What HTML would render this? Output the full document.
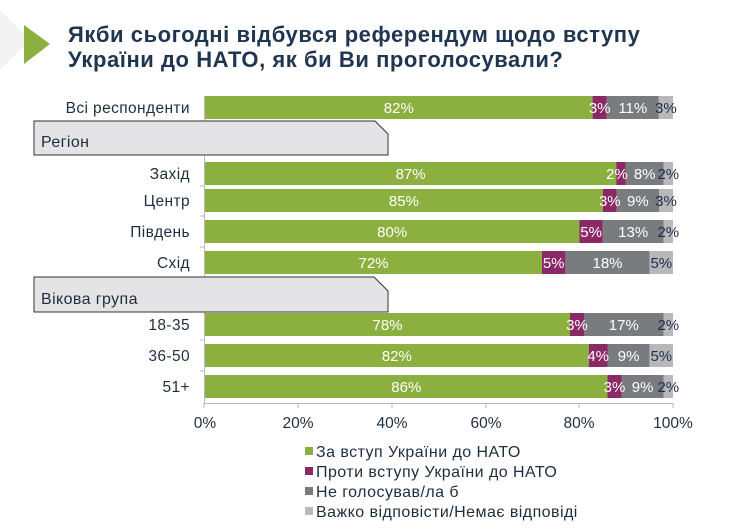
<!DOCTYPE html>
<html><head><meta charset="utf-8"><style>
body{margin:0;background:#fff;}
svg{display:block;font-family:"Liberation Sans","DejaVu Sans",sans-serif;}
</style></head><body>
<svg width="740" height="531" viewBox="0 0 740 531" xmlns="http://www.w3.org/2000/svg">
<polygon points="0,10 30,40 0,70" fill="#f2f2f2"/>
<polygon points="24,25 50,44 24,64" fill="#8cb040"/>
<g font-size="22" font-weight="bold" fill="#1f3550" letter-spacing="0.55">
<text x="68" y="42">Якби сьогодні відбувся референдум щодо вступу</text>
<text x="68" y="67">України до НАТО, як би Ви проголосували?</text>
</g>
<g stroke="#bbb" stroke-width="1">
<line x1="204.5" y1="96" x2="204.5" y2="403"/>
<line x1="204" y1="403.5" x2="673" y2="403.5"/>
<line x1="298" y1="403" x2="298" y2="408"/><line x1="392" y1="403" x2="392" y2="408"/>
<line x1="486" y1="403" x2="486" y2="408"/><line x1="579" y1="403" x2="579" y2="408"/>
<line x1="673" y1="403" x2="673" y2="408"/><line x1="204" y1="403" x2="204" y2="408"/>
<line x1="200" y1="127" x2="204" y2="127"/><line x1="200" y1="186" x2="204" y2="186"/>
<line x1="200" y1="216" x2="204" y2="216"/><line x1="200" y1="247" x2="204" y2="247"/>
<line x1="200" y1="340" x2="204" y2="340"/><line x1="200" y1="371" x2="204" y2="371"/>
</g>
<g font-size="15.5" fill="#1f2d3d" text-anchor="end" letter-spacing="0.4">
<text x="190" y="113">Всі респонденти</text>
<text x="190" y="179">Захід</text>
<text x="190" y="206">Центр</text>
<text x="190" y="237">Південь</text>
<text x="190" y="268">Схід</text>
<text x="190" y="330">18-35</text>
<text x="190" y="361">36-50</text>
<text x="190" y="392">51+</text>
</g>
<polygon points="34,121 375,121 388,134 388,155 34,155" fill="#e4e4e6" stroke="#333" stroke-width="1"/>
<text x="41" y="147" font-size="16" fill="#1f2d3d" letter-spacing="0.4">Регіон</text>
<polygon points="34,277 374,277 388,291 388,312 34,312" fill="#e4e4e6" stroke="#333" stroke-width="1"/>
<text x="41" y="304" font-size="16" fill="#1f2d3d" letter-spacing="0.4">Вікова група</text>
<g>
<rect x="205" y="96" width="387.6" height="23" fill="#8cb040"/><rect x="592.6" y="96" width="14.2" height="23" fill="#8b2866"/><rect x="606.8" y="96" width="52" height="23" fill="#7a7b7f"/><rect x="658.8" y="96" width="14.2" height="23" fill="#b8b8bb"/>
<rect x="205" y="162" width="411.3" height="23" fill="#8cb040"/><rect x="616.3" y="162" width="9.5" height="23" fill="#8b2866"/><rect x="625.8" y="162" width="37.8" height="23" fill="#7a7b7f"/><rect x="663.6" y="162" width="9.4" height="23" fill="#b8b8bb"/>
<rect x="205" y="189" width="397.8" height="23" fill="#8cb040"/><rect x="602.8" y="189" width="14" height="23" fill="#8b2866"/><rect x="616.8" y="189" width="42.2" height="23" fill="#7a7b7f"/><rect x="659" y="189" width="14" height="23" fill="#b8b8bb"/>
<rect x="205" y="220" width="374.4" height="23" fill="#8cb040"/><rect x="579.4" y="220" width="23.4" height="23" fill="#8b2866"/><rect x="602.8" y="220" width="60.9" height="23" fill="#7a7b7f"/><rect x="663.7" y="220" width="9.3" height="23" fill="#b8b8bb"/>
<rect x="205" y="251" width="337" height="23" fill="#8cb040"/><rect x="542" y="251" width="23.4" height="23" fill="#8b2866"/><rect x="565.4" y="251" width="84.2" height="23" fill="#7a7b7f"/><rect x="649.6" y="251" width="23.4" height="23" fill="#b8b8bb"/>
<rect x="205" y="313" width="365" height="23" fill="#8cb040"/><rect x="570" y="313" width="14" height="23" fill="#8b2866"/><rect x="584" y="313" width="79.6" height="23" fill="#7a7b7f"/><rect x="663.6" y="313" width="9.4" height="23" fill="#b8b8bb"/>
<rect x="205" y="344" width="383.8" height="23" fill="#8cb040"/><rect x="588.8" y="344" width="18.7" height="23" fill="#8b2866"/><rect x="607.5" y="344" width="42.1" height="23" fill="#7a7b7f"/><rect x="649.6" y="344" width="23.4" height="23" fill="#b8b8bb"/>
<rect x="205" y="375" width="402.5" height="23" fill="#8cb040"/><rect x="607.5" y="375" width="14" height="23" fill="#8b2866"/><rect x="621.5" y="375" width="42.1" height="23" fill="#7a7b7f"/><rect x="663.6" y="375" width="9.4" height="23" fill="#b8b8bb"/>
</g>
<g font-size="15" fill="#fff" text-anchor="middle">
<text x="398.8" y="113">82%</text><text x="599.7" y="113">3%</text><text x="632.8" y="113">11%</text>
<text x="410.6" y="179">87%</text><text x="617" y="179">2%</text><text x="644.7" y="179">8%</text>
<text x="403.9" y="206">85%</text><text x="609.8" y="206">3%</text><text x="637.9" y="206">9%</text>
<text x="392.2" y="237">80%</text><text x="591.1" y="237">5%</text><text x="633.2" y="237">13%</text>
<text x="373.5" y="268">72%</text><text x="553.7" y="268">5%</text><text x="607.5" y="268">18%</text>
<text x="387.5" y="330">78%</text><text x="577" y="330">3%</text><text x="623.8" y="330">17%</text>
<text x="396.9" y="361">82%</text><text x="598.2" y="361">4%</text><text x="628.6" y="361">9%</text>
<text x="406.3" y="392">86%</text><text x="614.5" y="392">3%</text><text x="642.6" y="392">9%</text>
</g>
<g font-size="15" fill="#1f2d4d" text-anchor="middle">
<text x="665.9" y="113">3%</text><text x="668.3" y="179">2%</text><text x="666" y="206">3%</text>
<text x="668.3" y="237">2%</text><text x="661.3" y="268">5%</text><text x="668.3" y="330">2%</text>
<text x="661.3" y="361">5%</text><text x="668.3" y="392">2%</text>
</g>
<g font-size="15.5" fill="#1f2d3d" text-anchor="middle">
<text x="205" y="428">0%</text><text x="298" y="428">20%</text><text x="392" y="428">40%</text>
<text x="486" y="428">60%</text><text x="579" y="428">80%</text><text x="673" y="428">100%</text>
</g>
<rect x="305" y="447" width="8" height="8" fill="#8cb040"/>
<rect x="305" y="467" width="8" height="8" fill="#8b2866"/>
<rect x="305" y="487" width="8" height="8" fill="#7a7b7f"/>
<rect x="305" y="507" width="8" height="8" fill="#b8b8bb"/>
<g font-size="16" fill="#1f2d3d" letter-spacing="0.45">
<text x="316" y="457">За вступ України до НАТО</text>
<text x="316" y="477">Проти вступу України до НАТО</text>
<text x="316" y="497">Не голосував/ла б</text>
<text x="316" y="517">Важко відповісти/Немає відповіді</text>
</g>
</svg>
</body></html>
